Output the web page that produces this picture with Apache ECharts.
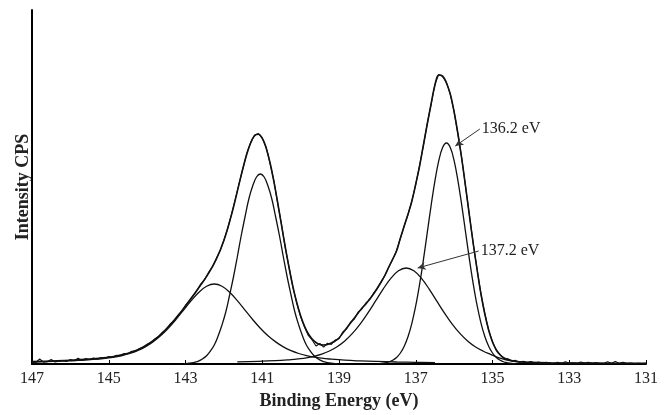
<!DOCTYPE html>
<html>
<head>
<meta charset="utf-8">
<script src="https://cdn.jsdelivr.net/npm/echarts@6/dist/echarts.min.js"></script>
<style>
html,body{margin:0;padding:0;background:#fff;}
#chart{width:666px;height:415px;}
</style>
</head>
<body>
<div id="chart"></div>
<script>
// ---- data (binding energy in eV, intensity in arbitrary CPS units) ----
const xTicks = [131, 133, 135, 137, 139, 141, 143, 145, 147];
const xTitle = 'Binding Energy (eV)';
const yTitle = 'Intensity CPS';

// measured spectrum, sampled every 0.1 eV from 147.0 down to 131.0
const rawStart = 147.0, rawStep = 0.1;
const rawCounts = [
2.0,1.5,5.0,1.8,2.2,4.5,2.0,2.8,3.5,2.6,
4.5,3.2,5.8,3.5,5.5,4.2,6.0,4.8,6.5,5.6,
7.5,6.8,8.8,8.2,10.5,10.2,12.8,12.9,15.5,16.4,
19.8,21.2,25.0,27.2,31.8,34.4,40.0,43.0,48.5,52.5,
58.8,62.8,68.2,73.6,80.2,84.4,91.4,97.0,105.2,113.0,
123.8,135.6,150.0,165.2,181.2,196.0,211.0,221.8,229.0,230.5,
225.6,217.0,201.2,183.8,161.2,139.8,116.2,96.6,76.4,61.0,
47.2,37.0,28.6,24.0,18.0,20.5,16.8,20.8,19.6,24.0,
25.2,32.0,35.2,41.8,45.0,52.0,55.2,61.0,64.4,70.8,
75.4,82.6,88.6,97.4,104.6,113.6,125.6,138.4,149.6,163.4,
179.6,198.4,218.6,240.4,259.6,279.6,289.6,287.4,281.6,269.6,
252.4,229.6,205.4,176.6,148.4,119.6,94.4,69.6,50.4,33.6,
22.4,13.6,9.4,5.6,5.2,3.0,3.6,1.8,2.8,1.4,
2.6,1.0,2.0,0.8,1.8,1.0,0.6,1.6,0.8,2.2,
0.8,1.2,0.6,2.0,0.9,1.8,0.7,1.4,0.6,0.8,
2.2,0.7,2.4,0.8,1.6,0.6,0.9,0.5,0.8,0.4,
0.6
];

// fitted envelope
const fitEnvelope = [
[147.0,2.4],[146.5,3.0],[146.0,3.7],[145.5,4.9],[145.0,6.8],[144.8,8.0],[144.6,9.7],[144.4,12.0],
[144.2,15.1],[144.0,19.3],[143.8,24.6],[143.6,31.2],[143.4,39.2],[143.2,48.2],[143.0,58.1],
[142.8,68.5],[142.6,79.2],[142.4,90.7],[142.2,104.6],[142.0,123.5],[141.8,149.4],[141.7,164.6],
[141.6,180.6],[141.5,196.2],[141.4,210.2],[141.3,221.2],[141.2,228.2],[141.1,229.8],[141.0,225.8],
[140.9,216.3],[140.8,201.7],[140.7,183.1],[140.6,161.8],[140.5,139.3],[140.4,117.0],[140.3,96.0],
[140.2,77.2],[140.1,61.3],[140.0,48.2],[139.9,38.0],[139.8,30.3],[139.7,25.0],[139.6,21.5],
[139.5,19.5],[139.4,19.0],[139.3,19.5],[139.2,21],[139.1,23],[139.0,26],[138.9,31],[138.8,36],
[138.7,41],[138.6,46],[138.5,51],[138.4,56],[138.3,60],[138.2,65],[138.1,70],[138.0,76],
[137.9,82],[137.8,89],[137.7,97],[137.6,105],[137.5,113],[137.4,126],[137.3,138],[137.2,150],
[137.1,163],[137.0,180],[136.9,198],[136.8,219],[136.7,240],[136.6,260],[136.5,279],[136.4,289],
[136.3,288],[136.2,281],[136.1,270],[136.0,252],[135.9,230],[135.8,205],[135.7,177],[135.6,148],
[135.5,120],[135.4,94],[135.3,70],[135.2,50],[135.1,34],[135.0,22],[134.9,14],[134.8,9],
[134.7,6],[134.6,4.5],[134.5,3.5],[134.4,2.8],[134.2,2.0],[134.0,1.6],[133.5,1.2],[133.0,1.0],
[132.0,0.8],[131.0,0.6]
];

// component peaks
const peak141 = [
[143.05,0.3],[142.95,0.6],[142.85,1.1],[142.75,1.9],[142.65,3.2],[142.55,5.3],[142.45,8.3],
[142.35,13],[142.25,19],[142.15,28],[142.05,39],[141.95,52],[141.85,69],[141.75,87],[141.65,107],
[141.55,128],[141.45,147],[141.35,165],[141.25,178],[141.15,187],[141.05,190],[140.95,187],
[140.85,178],[140.75,165],[140.65,147],[140.55,128],[140.45,107],[140.35,87],[140.25,69],
[140.15,52],[140.05,39],[139.95,28],[139.85,19],[139.75,13],[139.65,8.3],[139.55,5.3],
[139.45,3.2],[139.35,1.9],[139.25,1.1],[139.15,0.6],[139.05,0.3]
];
const peak142 = [
[147.0,2.0],[146.45,2.6],[146.05,3.1],[145.65,3.8],[145.25,5.0],[145.05,5.8],[144.85,6.9],
[144.65,8.4],[144.45,10.5],[144.25,13.3],[144.05,17.1],[143.85,22.1],[143.65,28.3],[143.45,35.8],
[143.25,44.5],[143.05,53.9],[142.85,63.4],[142.65,71.8],[142.45,77.8],[142.25,80],[142.05,77.8],
[141.85,71.8],[141.65,63.4],[141.45,53.9],[141.25,44.5],[141.05,35.8],[140.85,28.3],[140.65,22.1],
[140.45,17.1],[140.25,13.3],[140.05,10.5],[139.85,8.4],[139.65,6.9],[139.45,5.8],[139.25,5.0],
[138.85,3.8],[138.45,3.1],[138.05,2.6],[137.5,2.0],[137.0,1.7],[136.5,1.4]
];
const peak136 = [
[138.0,0.3],[137.9,0.5],[137.8,1.1],[137.7,2.0],[137.6,3.7],[137.5,6.5],[137.4,11.0],[137.3,17.8],
[137.2,27.5],[137.1,40.9],[137.0,58.3],[136.9,79.7],[136.8,104.4],[136.7,131.3],[136.6,158.4],
[136.5,183.2],[136.4,203.3],[136.3,216.4],[136.2,221],[136.1,216.4],[136.0,203.3],[135.9,183.2],
[135.8,158.4],[135.7,131.3],[135.6,104.4],[135.5,79.7],[135.4,58.3],[135.3,40.9],[135.2,27.5],
[135.1,17.8],[135.0,11.0],[134.9,6.5],[134.8,3.7],[134.7,2.0],[134.6,1.1],[134.5,0.5],[134.4,0.3]
];
const peak137 = [
[141.65,2.1],[140.65,3.3],[140.25,4.4],[140.05,5.2],[139.85,6.2],[139.65,7.7],[139.45,9.9],
[139.25,13.0],[139.05,17.3],[138.85,23.1],[138.65,30.6],[138.45,39.9],[138.25,50.9],[138.05,62.8],
[137.85,74.9],[137.65,85.6],[137.45,93.2],[137.25,96],[137.05,93.2],[136.85,85.6],[136.65,74.9],
[136.45,62.8],[136.25,50.9],[136.05,39.9],[135.85,30.6],[135.65,23.1],[135.45,17.3],[135.25,13.0],
[135.05,9.6],[134.85,6.4],[134.65,4.2],[134.45,2.7],[134.25,1.8],[133.85,0.9],[133.45,0.5]
];

// annotations: label text, label anchor, arrow tip (data coordinates)
const annotLabels = ['136.2 eV', '137.2 eV'];
const annotFrom = [[135.33, 235], [135.36, 113]];
const annotTo = [[135.97, 218], [136.95, 96]];

// ---- chart ----
const rawData = rawCounts.map((v, i) => [+(rawStart - i * rawStep).toFixed(2), v]);
const serif = 'Liberation Serif';
const ink = '#111';

const chart = echarts.init(document.getElementById('chart'), null, {renderer: 'canvas'});
const compStyle = {color: ink, width: 1.3};

chart.setOption({
  animation: false,
  backgroundColor: '#fff',
  grid: {left: 32, right: 20, top: 10, bottom: 51, containLabel: false, outerBoundsMode: 'none'},
  xAxis: {
    type: 'value', min: xTicks[0], max: xTicks[xTicks.length - 1], interval: 2, inverse: true,
    axisLine: {show: true, onZero: false, lineStyle: {color: '#000', width: 2}},
    axisTick: {show: true, inside: true, length: 4, lineStyle: {color: '#000', width: 1}},
    axisLabel: {fontFamily: serif, fontSize: 16, color: '#222', margin: 7},
    splitLine: {show: false},
    name: xTitle, nameLocation: 'middle', nameGap: 28,
    nameTextStyle: {fontFamily: serif, fontSize: 18, fontWeight: 'bold', color: '#222'}
  },
  yAxis: {
    type: 'value', min: 0, max: 354,
    axisLine: {show: true, lineStyle: {color: '#000', width: 2}},
    axisTick: {show: false}, axisLabel: {show: false}, splitLine: {show: false},
    name: yTitle, nameLocation: 'middle', nameGap: 0, nameRotate: 90,
    nameTextStyle: {fontFamily: serif, fontSize: 18, fontWeight: 'bold', color: '#222'}
  },
  series: [
    {name: 'peak 142', type: 'line', data: peak142, smooth: 0.4, showSymbol: false, lineStyle: compStyle, z: 2},
    {name: 'peak 141', type: 'line', data: peak141, smooth: 0.4, showSymbol: false, lineStyle: compStyle, z: 2},
    {name: 'peak 137.2', type: 'line', data: peak137, smooth: 0.4, showSymbol: false, lineStyle: compStyle, z: 2},
    {name: 'peak 136.2', type: 'line', data: peak136, smooth: 0.4, showSymbol: false, lineStyle: compStyle, z: 2},
    {name: 'fit', type: 'line', data: fitEnvelope, smooth: 0.4, showSymbol: false,
      lineStyle: {color: ink, width: 1.6}, z: 3,
      markLine: {
        silent: true, symbol: ['none', 'arrow'], symbolSize: [6, 8],
        lineStyle: {color: '#333', width: 1, type: 'solid'},
        label: {show: false},
        data: annotFrom.map((f, i) => [{coord: f}, {coord: annotTo[i]}])
      },
      markPoint: {
        silent: true, symbol: 'circle', symbolSize: 0,
        label: {show: true, position: 'right', distance: 2, formatter: '{b}',
          fontFamily: serif, fontSize: 16, color: '#222'},
        data: annotFrom.map((f, i) => ({name: annotLabels[i], coord: f}))
      }
    },
    {name: 'raw', type: 'line', data: rawData, showSymbol: false,
      lineStyle: {color: ink, width: 1.1}, z: 4}
  ]
});
</script>
</body>
</html>
